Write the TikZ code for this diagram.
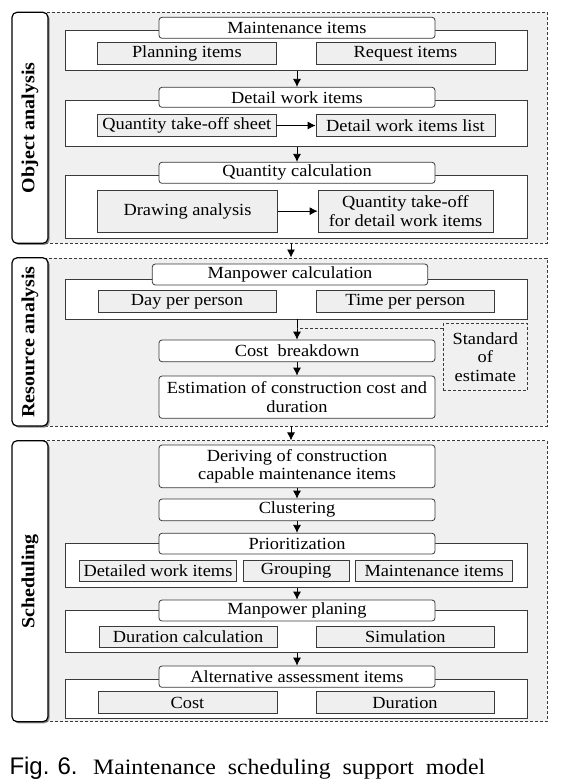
\documentclass[tikz,border=0pt]{standalone}
\usepackage{fontspec}
\setmainfont{Liberation Serif}[FakeStretch=1.08]
\newfontfamily\capsans{Liberation Sans}
\usetikzlibrary{arrows.meta,shadows}
\definecolor{regionfill}{HTML}{F0F0F0}
\definecolor{subfill}{HTML}{EFEFEF}
\definecolor{edge}{HTML}{3A3A3A}
\tikzset{
  region/.style={draw=edge, dash pattern=on 3pt off 2pt, fill=regionfill, line width=0.6pt, inner sep=0pt},
  labelbox/.style={draw=black, line width=1.2pt, fill=white, rounded corners=5pt, inner sep=0pt,
    drop shadow={shadow xshift=1.6pt, shadow yshift=-1.6pt, fill=black!55, opacity=0.8}},
  labeltext/.style={rotate=90, font=\fontsize{18.5}{20}\selectfont\bfseries},
  headbox/.style={draw=edge, line width=0.8pt, fill=white, rounded corners=3pt, inner sep=0pt, align=center, font=\fontsize{17}{18.5}\selectfont},
  grouprect/.style={draw=edge, line width=0.8pt, fill=white, inner sep=0pt},
  subbox/.style={draw=edge, line width=0.8pt, fill=subfill, inner sep=0pt, align=center, font=\fontsize{17}{18.5}\selectfont},
  stdbox/.style={draw=edge, dash pattern=on 3pt off 2pt, line width=0.8pt, inner sep=0pt, align=center, font=\fontsize{17}{18.5}\selectfont},
  flow/.style={-{Latex[length=8pt,width=8pt]}, line width=0.8pt, draw=black},
  dashlink/.style={draw=edge, dash pattern=on 3pt off 2pt, line width=0.8pt}
}
% \boxat{style}{name}{x1}{y1}{x2}{y2}{text}
\newcommand\boxat[7]{%
  \pgfmathsetmacro\bxw{#5-#3}\pgfmathsetmacro\bxh{#6-#4}%
  \pgfmathsetmacro\bxcx{(#3+#5)/2}\pgfmathsetmacro\bxcy{(#4+#6)/2}%
  \node[#1, minimum width=\bxw pt, minimum height=\bxh pt, anchor=center] (#2) at (\bxcx,\bxcy) {#7};}
\begin{document}
\begin{tikzpicture}[x=1pt,y=-1pt]
\useasboundingbox (0,0) rectangle (567,780);
\fill[white] (0,0) rectangle (567,780);

% ===== Section 1: Object analysis =====
\boxat{region}{reg1}{30}{12.3}{547}{243.3}{}
\boxat{labelbox}{lab1}{12}{12.3}{48}{243.3}{}
\node[labeltext] (lab1t) at (lab1.center) {Object analysis};

\boxat{grouprect}{g1}{65.7}{30}{527.3}{70.7}{}
\boxat{headbox}{h1}{159}{17.3}{435}{38.3}{Maintenance items}
\boxat{subbox}{plan}{97.7}{42.7}{276}{64.3}{Planning items}
\boxat{subbox}{req}{316}{42.7}{495}{64.3}{Request items}

\boxat{grouprect}{g2}{65.7}{100.3}{527.3}{146.7}{}
\boxat{headbox}{h2}{159}{87.3}{435}{107.3}{Detail work items}
\boxat{subbox}{qts}{97.7}{114.3}{276}{136.7}{Quantity take-off sheet}
\boxat{subbox}{dwl}{316}{114.3}{495}{136.7}{Detail work items list}

\boxat{grouprect}{g3}{65.7}{175.5}{527.3}{238.3}{}
\boxat{headbox}{h3}{159}{162.3}{435}{183.3}{Quantity calculation}
\boxat{subbox}{dra}{97.7}{190}{277.3}{232.3}{Drawing analysis}
\boxat{subbox}{qtd}{318}{190}{493}{232.3}{Quantity take-off\\for detail work items}

\draw[flow] (h2.north |- g1.south) -- (h2.north);
\draw[flow] (h3.north |- g2.south) -- (h3.north);
\draw[flow] (qts.east) -- (dwl.west);
\draw[flow] (dra.east) -- (qtd.west);

% ===== Section 2: Resource analysis =====
\boxat{region}{reg2}{30}{257.8}{547}{426}{}
\boxat{labelbox}{lab2}{12}{257.8}{48}{426}{}
\node[labeltext] (lab2t) at (lab2.center) {Resource analysis};

\boxat{grouprect}{g4}{65.7}{279.3}{527.3}{319}{}
\boxat{headbox}{h4}{152.3}{264}{427.8}{285}{Manpower calculation}
\boxat{subbox}{dpp}{98}{290.7}{276}{312.3}{Day per person}
\boxat{subbox}{tpp}{316}{290.7}{494.6}{312.3}{Time per person}

\boxat{headbox}{cost}{159}{340}{435}{361.7}{Cost~ breakdown}
\boxat{headbox}{est}{159}{376}{435}{418.3}{Estimation of construction cost and\\duration}
\boxat{stdbox}{std}{443.3}{323.3}{527.3}{390.7}{Standard\\of\\estimate}

\coordinate (stdj) at (443.3,328.3);
\draw[flow] (cost.north |- g4.south) -- (cost.north);
\draw[dashlink] (stdj) -- (stdj -| cost.north);
\draw[flow] (cost.south) -- (est.north);

% ===== Section 3: Scheduling =====
\boxat{region}{reg3}{30}{440.7}{547}{721.7}{}
\boxat{labelbox}{lab3}{12}{440.7}{48}{721.7}{}
\node[labeltext] (lab3t) at (lab3.center) {Scheduling};

\boxat{headbox}{der}{159}{445}{435}{487.7}{Deriving of construction\\capable maintenance items}
\boxat{headbox}{clu}{159}{499}{435}{520.7}{Clustering}

\boxat{grouprect}{g5}{65.7}{543.3}{527.3}{587.3}{}
\boxat{headbox}{pri}{159}{533.3}{435}{554}{Prioritization}
\boxat{subbox}{dwi}{79.4}{560}{236.5}{581.7}{Detailed work items}
\boxat{subbox}{grp}{243}{560}{349}{581.7}{Grouping}
\boxat{subbox}{mit}{355.6}{560}{512.6}{581.7}{Maintenance items}

\boxat{grouprect}{g6}{65.7}{610}{527.3}{652.7}{}
\boxat{headbox}{mpp}{159}{600}{435}{621}{Manpower planing}
\boxat{subbox}{dur}{99.3}{626}{277}{647.3}{Duration calculation}
\boxat{subbox}{sim}{316.6}{626}{494}{647.3}{Simulation}

\boxat{grouprect}{g7}{65.7}{679.3}{527.3}{718.3}{}
\boxat{headbox}{alt}{159}{666}{435}{687.3}{Alternative assessment items}
\boxat{subbox}{cst}{98}{691.7}{277}{713.3}{Cost}
\boxat{subbox}{drt}{316}{691.7}{494}{713.3}{Duration}

\draw[flow] (der.south) -- (clu.north);
\draw[flow] (clu.south) -- (pri.north);
\draw[flow] (mpp.north |- g5.south) -- (mpp.north);
\draw[flow] (alt.north |- g6.south) -- (alt.north);

% ===== Arrows between sections =====
\coordinate (i1) at (291,243.3);
\coordinate (i2) at (291,426);
\draw[flow] (i1) -- (i1 |- reg2.north);
\draw[flow] (i2) -- (i2 |- reg3.north);

% ===== Caption =====
\node[anchor=base west, inner sep=0pt, font=\capsans\fontsize{24}{26}\selectfont] (figlab) at (9.3,774) {Fig.\,\,6.};
\node[anchor=base west, inner sep=0pt, font=\fontsize{22}{24}\selectfont] (captext) at (93,774) {\makebox[392pt][s]{Maintenance scheduling support model}};
\end{tikzpicture}
\end{document}
